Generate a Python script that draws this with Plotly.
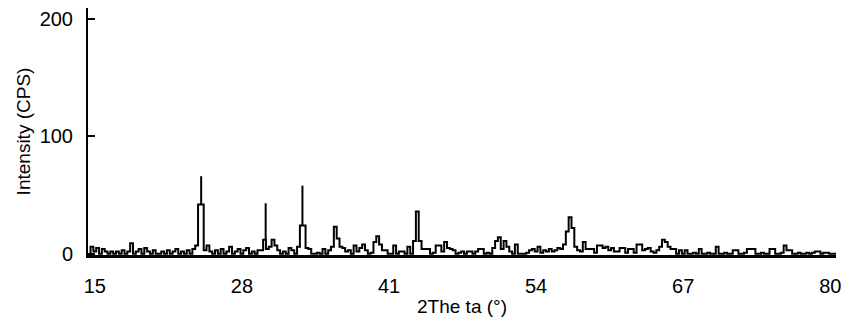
import numpy as np
import plotly.graph_objects as go

# XRD scan: 2-theta sampled every 0.25 degree from 14.5 to 80.5
scan_start = 14.5
scan_step = 0.25
intensity = [
    0, 6, 2,                      # 14.50 - 15.00
    5, 0, 4, 2,                   # 15.25 - 16.00
    0, 2, 0, 2,                   # 16.25 - 17.00
    0, 3, 0, 2,                   # 17.25 - 18.00
    9, 0, 2, 4,                   # 18.25 - 19.00
    0, 5, 2, 0,                   # 19.25 - 20.00
    3, 0, 0, 2,                   # 20.25 - 21.00
    0, 3, 0, 2,                   # 21.25 - 22.00
    4, 0, 2, 0,                   # 22.25 - 23.00
    3, 0, 4, 7,                   # 23.25 - 24.00
    42, 42, 3, 7,                 # 24.25 - 25.00
    2, 0, 3, 0,                   # 25.25 - 26.00
    4, 0, 2, 6,                   # 26.25 - 27.00
    0, 2, 4, 0,                   # 27.25 - 28.00
    3, 5, 0, 2,                   # 28.25 - 29.00
    0, 3, 3, 12,                  # 29.25 - 30.00
    4, 6, 12, 7,                  # 30.25 - 31.00
    3, 0, 2, 0,                   # 31.25 - 32.00
    5, 3, 0, 6,                   # 32.25 - 33.00
    24, 24, 5, 4,                 # 33.25 - 34.00
    0, 0, 1, 0,                   # 34.25 - 35.00
    4, 0, 3, 6,                   # 35.25 - 36.00
    23, 13, 6, 5,                 # 36.25 - 37.00
    2, 3, 0, 7,                   # 37.25 - 38.00
    2, 5, 8, 3,                   # 38.25 - 39.00
    0, 1, 10, 15,                 # 39.25 - 40.00
    8, 3, 3, 0,                   # 40.25 - 41.00
    0, 7, 0, 2,                   # 41.25 - 42.00
    2, 0, 6, 0,                   # 42.25 - 43.00
    11, 36, 11, 4,                # 43.25 - 44.00
    4, 4, 0, 1,                   # 44.25 - 45.00
    7, 7, 2, 10,                  # 45.25 - 46.00
    5, 4, 3, 0,                   # 46.25 - 47.00
    1, 2, 0, 2,                   # 47.25 - 48.00
    2, 0, 2, 4,                   # 48.25 - 49.00
    4, 0, 1, 0,                   # 49.25 - 50.00
    5, 11, 14, 4,                 # 50.25 - 51.00
    11, 6, 2, 0,                  # 51.25 - 52.00
    8, 0, 0, 0,                   # 52.25 - 53.00
    1, 3, 4, 2,                   # 53.25 - 54.00
    6, 1, 3, 2,                   # 54.25 - 55.00
    4, 2, 3, 5,                   # 55.25 - 56.00
    4, 8, 19, 31,                 # 56.25 - 57.00
    22, 6, 3, 2,                  # 57.25 - 58.00
    10, 4, 4, 4,                  # 58.25 - 59.00
    1, 7, 7, 5,                   # 59.25 - 60.00
    6, 3, 5, 2,                   # 60.25 - 61.00
    2, 5, 5, 1,                   # 61.25 - 62.00
    4, 4, 1, 8,                   # 62.25 - 63.00
    8, 3, 4, 5,                   # 63.25 - 64.00
    2, 1, 3, 6,                   # 64.25 - 65.00
    12, 10, 6, 4,                 # 65.25 - 66.00
    4, 0, 3, 0,                   # 66.25 - 67.00
    3, 0, 0, 1,                   # 67.25 - 68.00
    0, 4, 0, 0,                   # 68.25 - 69.00
    1, 0, 0, 6,                   # 69.25 - 70.00
    0, 0, 1, 0,                   # 70.25 - 71.00
    0, 3, 3, 0,                   # 71.25 - 72.00
    0, 1, 4, 4,                   # 72.25 - 73.00
    4, 0, 0, 1,                   # 73.25 - 74.00
    0, 0, 4, 4,                   # 74.25 - 75.00
    0, 0, 1, 7,                   # 75.25 - 76.00
    3, 3, 0, 0,                   # 76.25 - 77.00
    1, 0, 0, 1,                   # 77.25 - 78.00
    0, 1, 2, 2,                   # 78.25 - 79.00
    0, 1, 1, 0,                   # 79.25 - 80.00
    0, 0,                         # 80.25 - 80.50
]
two_theta = scan_start + scan_step * np.arange(len(intensity))

# narrow reflections (single-sample spikes rising from the step outline)
spike_pos = [24.4, 30.1, 33.35]
spike_base = [42, 12, 24]
spike_top = [66, 43, 58]

x_ticks = [15, 28, 41, 54, 67, 80]
y_ticks = [0, 100, 200]

sx, sy = [], []
for p, b, t in zip(spike_pos, spike_base, spike_top):
    sx += [p, p, None]
    sy += [b, t, None]

fig = go.Figure()
fig.add_trace(go.Scatter(x=two_theta, y=intensity, mode="lines",
                         line=dict(color="black", width=2, shape="hvh"),
                         hoverinfo="skip", showlegend=False))
fig.add_trace(go.Scatter(x=sx, y=sy, mode="lines",
                         line=dict(color="black", width=2),
                         hoverinfo="skip", showlegend=False))

font = dict(family="Liberation Sans, Arial, sans-serif", size=20, color="black")
fig.update_layout(
    width=849, height=329,
    margin=dict(l=88, r=13, t=8, b=74),
    paper_bgcolor="white", plot_bgcolor="white",
    font=font,
    xaxis=dict(range=[14.4, 80.5], tickvals=x_ticks, ticks="", showline=True,
               linewidth=3, linecolor="black",
               showgrid=False, zeroline=False, ticklabelstandoff=11,
               title=dict(text="2The ta (°)", standoff=4,
                          font=dict(size=19))),
    yaxis=dict(range=[-1, 209], tickvals=y_ticks, ticks="inside", ticklen=7,
               tickwidth=2, tickcolor="black", showline=True, linewidth=2,
               linecolor="black", showgrid=False, zeroline=False,
               ticklabelstandoff=9,
               title=dict(text="Intensity (CPS)", standoff=4,
                          font=dict(size=19))),
)
fig.write_html("out.html")
